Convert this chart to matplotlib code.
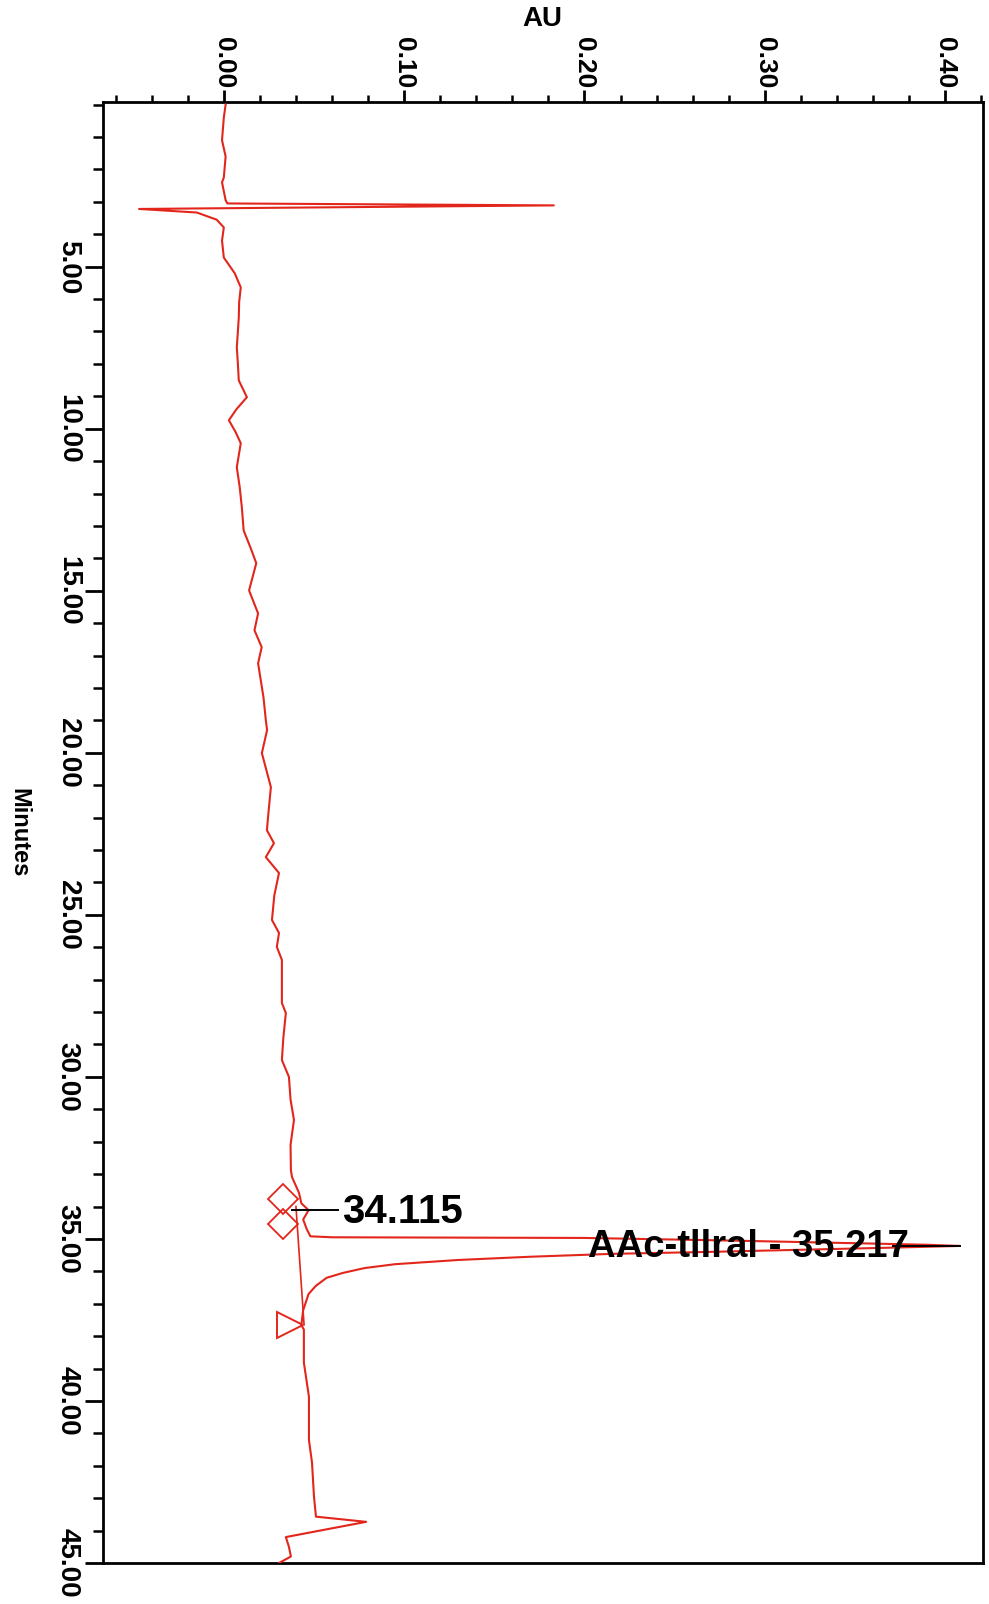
import matplotlib
matplotlib.use("Agg")
import matplotlib.pyplot as plt
from matplotlib import font_manager as fm
from matplotlib.ticker import FixedLocator, MultipleLocator, FuncFormatter

# ---- chromatogram trace (retention time in minutes, absorbance in AU) ----
minutes = [0.0, 0.4, 1.1, 1.6, 2.25, 2.4, 2.95, 3.05, 3.11, 3.22, 3.33, 3.55,
           3.79, 4.2, 4.72, 5.2, 5.64, 6.1, 6.57, 7.0, 7.49, 8.0, 8.51, 9.03,
           9.4, 9.74, 10.1, 10.45, 11.19, 11.8, 12.43, 13.14, 13.7, 14.15,
           14.99, 15.7, 16.22, 16.74, 17.24, 18.29, 19.0, 19.3, 20.01, 21.06,
           22.0, 22.39, 22.79, 23.22, 23.71, 24.4, 25.16, 25.56, 25.99, 26.39,
           27.72, 28.03, 28.8, 29.48, 30.0, 30.7, 31.33, 32.1, 32.87, 33.09,
           33.58, 33.9, 34.115, 34.4, 34.7, 34.92, 34.95, 34.97, 35.05, 35.18,
           35.217, 35.27, 35.40, 35.46, 35.55, 35.65, 35.78, 35.9, 36.05, 36.2,
           36.45, 36.7, 37.2, 37.65, 37.8, 38.82, 39.87, 41.2, 41.9, 42.95,
           43.57, 43.73, 44.2, 44.5, 44.8, 45.0]
absorbance = [0.001, 0.000, -0.001, 0.001, 0.000, -0.001, 0.001, 0.002, 0.183,
              -0.047, -0.015, -0.004, 0.000, -0.001, 0.000, 0.006, 0.0094,
              0.0085, 0.0083, 0.0078, 0.0072, 0.0078, 0.0083, 0.0128, 0.007,
              0.0028, 0.0065, 0.0094, 0.0072, 0.0088, 0.010, 0.011, 0.015,
              0.018, 0.014, 0.019, 0.017, 0.021, 0.019, 0.022, 0.0233, 0.024,
              0.0211, 0.0261, 0.0245, 0.0239, 0.0278, 0.0233, 0.0306, 0.028,
              0.0267, 0.0306, 0.0294, 0.0322, 0.0322, 0.0344, 0.033, 0.0322,
              0.0361, 0.037, 0.0389, 0.037, 0.0372, 0.0378, 0.0417, 0.043,
              0.047, 0.044, 0.046, 0.048, 0.060, 0.20, 0.28, 0.39, 0.408, 0.37,
              0.27, 0.216, 0.17, 0.13, 0.095, 0.078, 0.066, 0.057, 0.051,
              0.047, 0.044, 0.043, 0.0444, 0.0444, 0.0472, 0.0472, 0.0489,
              0.050, 0.0511, 0.0789, 0.0344, 0.0361, 0.0372, 0.0306]

# integration baseline under the main peak and peak start/end markers
baseline_t = [34.0, 37.65]
baseline_au = [0.040, 0.0445]
start_marks_t = [33.76, 34.53]
start_marks_au = [0.033, 0.033]
end_mark_t = [37.67]
end_mark_au = [0.0367]

# peak labels
peak_small_t = 34.115
peak_small_label = "34.115"
peak_main_t = 35.217
peak_main_label = "AAc-tllral - 35.217"

au_major = [0.00, 0.10, 0.20, 0.30, 0.40]
min_major = [5, 10, 15, 20, 25, 30, 35, 40, 45]


def pick_font(names):
    avail = {f.name for f in fm.fontManager.ttflist}
    for n in names:
        if n in avail:
            return n
    return "DejaVu Sans"


tick_font = pick_font(["Liberation Sans Narrow", "Liberation Sans", "Arial"])
text_font = pick_font(["Liberation Sans", "Arial"])

RED = "#e3261c"

fig = plt.figure(figsize=(9.89, 16.04), dpi=100)
ax = fig.add_axes([103 / 989, 1 - 1563 / 1604, 880 / 989, 1461 / 1604])

ax.plot(absorbance, minutes, color=RED, lw=1.5, zorder=3)
ax.plot(baseline_au, baseline_t, color=RED, lw=1.2, zorder=2)
ax.plot(start_marks_au, start_marks_t, ls="none", marker="D", ms=15,
        mfc="none", mec=RED, mew=1.3, zorder=4)
ax.plot(end_mark_au, end_mark_t, ls="none", marker=">", ms=19,
        mfc="none", mec=RED, mew=1.4, zorder=4)

# peak annotations
ax.plot([0.038, 0.0635], [peak_small_t, peak_small_t], color="black", lw=1.4, zorder=5)
ax.text(0.0656, peak_small_t + 0.05, peak_small_label, fontsize=29, fontweight="bold",
        family=text_font, ha="left", va="center", zorder=6)
ax.plot([0.371, 0.408], [peak_main_t, peak_main_t], color="black", lw=1.4, zorder=5)
ax.text(0.2017, peak_main_t + 0.02, peak_main_label, fontsize=27.5, fontweight="bold",
        family=text_font, ha="left", va="center", zorder=6)

ax.set_xlim(-0.067, 0.421)
ax.set_ylim(45.0, -0.08)

ax.xaxis.tick_top()
ax.xaxis.set_label_position("top")
ax.xaxis.set_major_locator(FixedLocator(au_major))
ax.xaxis.set_minor_locator(MultipleLocator(0.02))
ax.xaxis.set_major_formatter(FuncFormatter(lambda v, p: f"{v:.2f}"))
ax.yaxis.set_major_locator(FixedLocator(min_major))
ax.yaxis.set_minor_locator(MultipleLocator(1))
ax.yaxis.set_major_formatter(FuncFormatter(lambda v, p: f"{v:.2f}"))

ax.tick_params(axis="x", which="major", direction="out", length=9, width=2.0, pad=1)
ax.tick_params(axis="x", which="minor", direction="out", length=5, width=1.8)
ax.tick_params(axis="y", which="major", direction="out", length=13, width=2.0, pad=3)
ax.tick_params(axis="y", which="minor", direction="out", length=7, width=1.8)
ax.tick_params(axis="x", which="both", top=True, bottom=False)
ax.tick_params(axis="y", which="both", left=True, right=False)

for lab in ax.get_xticklabels():
    lab.set_rotation(-90)
    lab.set_fontsize(19)
    lab.set_fontweight("bold")
    lab.set_family(tick_font)
    lab.set_ha("center")
    lab.set_va("bottom")
for lab in ax.get_yticklabels():
    lab.set_rotation(-90)
    lab.set_fontsize(20)
    lab.set_fontweight("bold")
    lab.set_family(tick_font)
    lab.set_ha("right")
    lab.set_va("center")

for sp in ax.spines.values():
    sp.set_linewidth(2.0)
    sp.set_color("black")

fig.text(542 / 989, 1 - 19 / 1604, "AU", fontsize=20, fontweight="bold",
         family=tick_font, ha="center", va="center")
fig.text(19 / 989, 1 - 833 / 1604, "Minutes", fontsize=17, fontweight="bold",
         family=tick_font, rotation=-90, ha="center", va="center")

fig.savefig("out.png", dpi=100, facecolor="white")
